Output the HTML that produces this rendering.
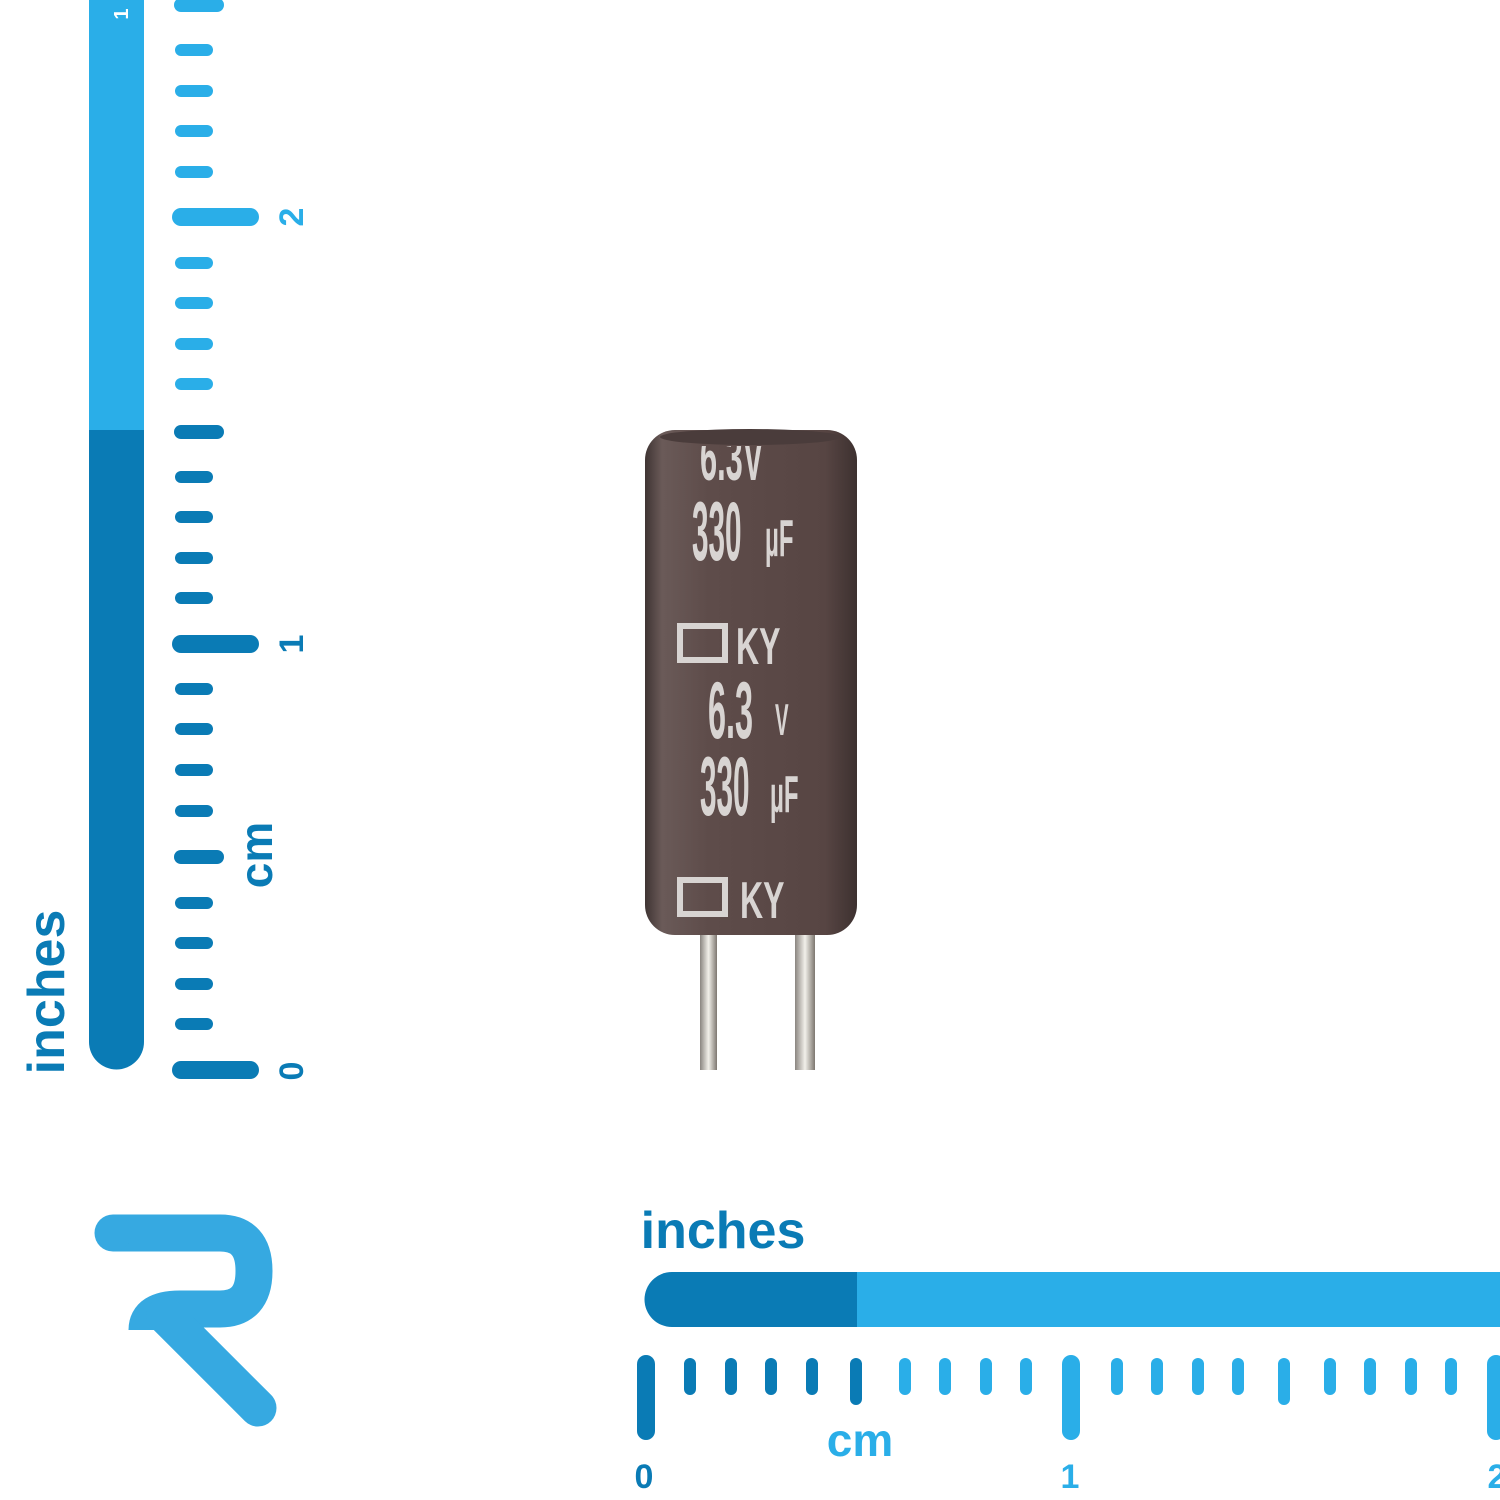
<!DOCTYPE html>
<html><head><style>
html,body{margin:0;padding:0;background:#fff;}
svg{display:block}
</style></head><body>
<svg width="1500" height="1500" viewBox="0 0 1500 1500" xmlns="http://www.w3.org/2000/svg" font-family="Liberation Sans, sans-serif">
<defs>
<linearGradient id="body" x1="0" x2="1" y1="0" y2="0">
<stop offset="0" stop-color="#3f3433"/><stop offset="0.08" stop-color="#6a5a58"/><stop offset="0.3" stop-color="#5e4c4a"/><stop offset="0.85" stop-color="#574543"/><stop offset="1" stop-color="#3d3130"/>
</linearGradient>
<linearGradient id="lead" x1="0" x2="1"><stop offset="0" stop-color="#8a8580"/><stop offset="0.5" stop-color="#f2f0ea"/><stop offset="1" stop-color="#7d7770"/></linearGradient>
<clipPath id="bc"><rect x="645" y="446" width="212" height="500"/></clipPath>
</defs>
<rect x="89" y="0" width="55" height="430" fill="#2aaee8"/>
<path d="M89,430 H144 V1042 A27.5,27.5 0 0 1 89,1042 Z" fill="#0a7bb5"/>
<g stroke-linecap="round">
<line x1="181" y1="1070" x2="250" y2="1070" stroke="#0a7bb5" stroke-width="18"/>
<line x1="181" y1="1024" x2="207" y2="1024" stroke="#0a7bb5" stroke-width="12"/>
<line x1="181" y1="984" x2="207" y2="984" stroke="#0a7bb5" stroke-width="12"/>
<line x1="181" y1="943" x2="207" y2="943" stroke="#0a7bb5" stroke-width="12"/>
<line x1="181" y1="903" x2="207" y2="903" stroke="#0a7bb5" stroke-width="12"/>
<line x1="181" y1="857" x2="217" y2="857" stroke="#0a7bb5" stroke-width="14"/>
<line x1="181" y1="811" x2="207" y2="811" stroke="#0a7bb5" stroke-width="12"/>
<line x1="181" y1="770" x2="207" y2="770" stroke="#0a7bb5" stroke-width="12"/>
<line x1="181" y1="729" x2="207" y2="729" stroke="#0a7bb5" stroke-width="12"/>
<line x1="181" y1="689" x2="207" y2="689" stroke="#0a7bb5" stroke-width="12"/>
<line x1="181" y1="644" x2="250" y2="644" stroke="#0a7bb5" stroke-width="18"/>
<line x1="181" y1="598" x2="207" y2="598" stroke="#0a7bb5" stroke-width="12"/>
<line x1="181" y1="558" x2="207" y2="558" stroke="#0a7bb5" stroke-width="12"/>
<line x1="181" y1="517" x2="207" y2="517" stroke="#0a7bb5" stroke-width="12"/>
<line x1="181" y1="477" x2="207" y2="477" stroke="#0a7bb5" stroke-width="12"/>
<line x1="181" y1="432" x2="217" y2="432" stroke="#0a7bb5" stroke-width="14"/>
<line x1="181" y1="384" x2="207" y2="384" stroke="#2aaee8" stroke-width="12"/>
<line x1="181" y1="344" x2="207" y2="344" stroke="#2aaee8" stroke-width="12"/>
<line x1="181" y1="303" x2="207" y2="303" stroke="#2aaee8" stroke-width="12"/>
<line x1="181" y1="263" x2="207" y2="263" stroke="#2aaee8" stroke-width="12"/>
<line x1="181" y1="217" x2="250" y2="217" stroke="#2aaee8" stroke-width="18"/>
<line x1="181" y1="172" x2="207" y2="172" stroke="#2aaee8" stroke-width="12"/>
<line x1="181" y1="131" x2="207" y2="131" stroke="#2aaee8" stroke-width="12"/>
<line x1="181" y1="91" x2="207" y2="91" stroke="#2aaee8" stroke-width="12"/>
<line x1="181" y1="50" x2="207" y2="50" stroke="#2aaee8" stroke-width="12"/>
<line x1="181" y1="5" x2="217" y2="5" stroke="#2aaee8" stroke-width="14"/>
</g>
<g font-weight="bold">
<text transform="translate(303,1071) rotate(-90)" font-size="34" fill="#0a7bb5" text-anchor="middle">0</text>
<text transform="translate(303,644) rotate(-90)" font-size="34" fill="#0a7bb5" text-anchor="middle">1</text>
<text transform="translate(303,217) rotate(-90)" font-size="34" fill="#2aaee8" text-anchor="middle">2</text>
<text transform="translate(128,14) rotate(-90)" font-size="20" fill="#fff" text-anchor="middle">1</text>
<text transform="translate(272,855) rotate(-90)" font-size="46" fill="#0a7bb5" text-anchor="middle">cm</text>
<text transform="translate(64,992) rotate(-90)" font-size="52" fill="#0a7bb5" text-anchor="middle">inches</text>
</g>
<path d="M672,1272 H857 V1327 H672 A27.5,27.5 0 0 1 672,1272 Z" fill="#0a7bb5"/>
<rect x="857" y="1272" width="643" height="55" fill="#2aaee8"/>
<g stroke-linecap="round">
<line x1="646" y1="1364" x2="646" y2="1431" stroke="#0a7bb5" stroke-width="18"/>
<line x1="690" y1="1364" x2="690" y2="1389" stroke="#0a7bb5" stroke-width="12"/>
<line x1="731" y1="1364" x2="731" y2="1389" stroke="#0a7bb5" stroke-width="12"/>
<line x1="771" y1="1364" x2="771" y2="1389" stroke="#0a7bb5" stroke-width="12"/>
<line x1="812" y1="1364" x2="812" y2="1389" stroke="#0a7bb5" stroke-width="12"/>
<line x1="856" y1="1364" x2="856" y2="1399" stroke="#0a7bb5" stroke-width="12"/>
<line x1="905" y1="1364" x2="905" y2="1389" stroke="#2aaee8" stroke-width="12"/>
<line x1="945" y1="1364" x2="945" y2="1389" stroke="#2aaee8" stroke-width="12"/>
<line x1="986" y1="1364" x2="986" y2="1389" stroke="#2aaee8" stroke-width="12"/>
<line x1="1026" y1="1364" x2="1026" y2="1389" stroke="#2aaee8" stroke-width="12"/>
<line x1="1071" y1="1364" x2="1071" y2="1431" stroke="#2aaee8" stroke-width="18"/>
<line x1="1117" y1="1364" x2="1117" y2="1389" stroke="#2aaee8" stroke-width="12"/>
<line x1="1157" y1="1364" x2="1157" y2="1389" stroke="#2aaee8" stroke-width="12"/>
<line x1="1198" y1="1364" x2="1198" y2="1389" stroke="#2aaee8" stroke-width="12"/>
<line x1="1238" y1="1364" x2="1238" y2="1389" stroke="#2aaee8" stroke-width="12"/>
<line x1="1284" y1="1364" x2="1284" y2="1399" stroke="#2aaee8" stroke-width="12"/>
<line x1="1330" y1="1364" x2="1330" y2="1389" stroke="#2aaee8" stroke-width="12"/>
<line x1="1370" y1="1364" x2="1370" y2="1389" stroke="#2aaee8" stroke-width="12"/>
<line x1="1411" y1="1364" x2="1411" y2="1389" stroke="#2aaee8" stroke-width="12"/>
<line x1="1451" y1="1364" x2="1451" y2="1389" stroke="#2aaee8" stroke-width="12"/>
<line x1="1496" y1="1364" x2="1496" y2="1431" stroke="#2aaee8" stroke-width="18"/>
</g>
<g font-weight="bold">
<text x="644" y="1488" font-size="34" fill="#0a7bb5" text-anchor="middle">0</text>
<text x="1070" y="1488" font-size="34" fill="#2aaee8" text-anchor="middle">1</text>
<text x="1497" y="1488" font-size="34" fill="#2aaee8" text-anchor="middle">2</text>
<text x="860" y="1456" font-size="46" fill="#2aaee8" text-anchor="middle">cm</text>
<text x="723" y="1248" font-size="52" fill="#0a7bb5" text-anchor="middle">inches</text>
</g>
<g fill="none" stroke="#36a9e1" stroke-width="37">
<path d="M113,1233 H220 Q254,1233 254,1271 Q254,1309 220,1309 H180 Q147,1309 147,1330"/>
<path d="M165,1315 L258,1408" stroke-linecap="round"/>
</g>
<circle cx="113" cy="1233" r="18.5" fill="#36a9e1"/>
<rect x="700" y="925" width="17" height="145" fill="url(#lead)"/>
<rect x="795" y="925" width="20" height="145" fill="url(#lead)"/>
<rect x="645" y="430" width="212" height="505" rx="30" fill="url(#body)"/>
<ellipse cx="750" cy="437" rx="90" ry="8" fill="#4a3c3b"/>
<g fill="#d8d4d2" font-weight="bold">
<g clip-path="url(#bc)"><text transform="translate(700,480) scale(0.7,1.5)" font-size="44">6.3V</text></g>
<text transform="translate(692,560) scale(0.55,1.55)" font-size="54">330</text>
<text transform="translate(765,556) scale(0.6,1.3)" font-size="40">µF</text>
<rect x="680" y="626" width="45" height="34" fill="none" stroke="#d8d4d2" stroke-width="6"/>
<text transform="translate(736,664) scale(0.8,1.3)" font-size="40">KY</text>
<text transform="translate(708,738) scale(0.6,1.5)" font-size="54">6.3</text>
<text transform="translate(775,735) scale(0.6,1.3)" font-size="34">V</text>
<text transform="translate(700,815) scale(0.55,1.55)" font-size="54">330</text>
<text transform="translate(770,812) scale(0.6,1.3)" font-size="40">µF</text>
<rect x="680" y="880" width="45" height="34" fill="none" stroke="#d8d4d2" stroke-width="6"/>
<text transform="translate(740,918) scale(0.8,1.3)" font-size="40">KY</text>
</g>
</svg>
</body></html>
